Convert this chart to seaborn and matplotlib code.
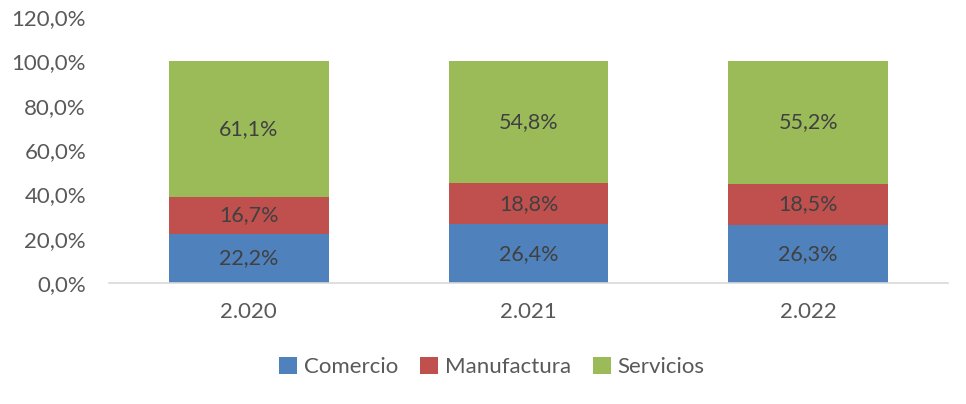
import matplotlib
matplotlib.use("Agg")
import matplotlib.pyplot as plt
import seaborn as sns
import pandas as pd

years = ["2.020", "2.021", "2.022"]
comercio = [22.2, 26.4, 26.3]
manufactura = [16.7, 18.8, 18.5]
servicios = [61.1, 54.8, 55.2]
series_names = ["Comercio", "Manufactura", "Servicios"]
colors = ["#4F81BD", "#C0504D", "#9BBB59"]

sns.set_style("white")
plt.rcParams["font.family"] = ["Lato", "DejaVu Sans"]

fig = plt.figure(figsize=(9.66, 4.04), dpi=100)
ax = fig.add_axes([109 / 966, 1 - 283 / 404, 839 / 966, 266 / 404])

bottom = [0, 0, 0]
for name, vals, col in zip(series_names, [comercio, manufactura, servicios], colors):
    df = pd.DataFrame({"year": years, "value": vals})
    sns.barplot(data=df, x="year", y="value", bottom=bottom, color=col,
                width=0.572, ax=ax, label=name, saturation=1, linewidth=0)
    for i, v in enumerate(vals):
        ax.text(i, bottom[i] + v / 2, f"{v:.1f}%".replace(".", ","),
                ha="center", va="center", fontsize=15.5, color="#404040")
    bottom = [b + v for b, v in zip(bottom, vals)]

ax.set_ylim(0, 120)
ax.set_xlim(-0.5, 2.5)
ax.set_yticks(range(0, 121, 20))
ax.set_yticklabels([f"{t},0%" for t in range(0, 121, 20)])
ax.set_xlabel("")
ax.set_ylabel("")
ax.tick_params(axis="both", labelsize=16, colors="#595959", length=0)
ax.tick_params(axis="y", pad=16.5)
ax.tick_params(axis="x", pad=14)
for s in ["top", "right", "left"]:
    ax.spines[s].set_visible(False)
ax.spines["bottom"].set_color("#d9d9d9")
ax.spines["bottom"].set_linewidth(1.2)

ax.legend(loc="center", bbox_to_anchor=(492 / 966, 1 - 367 / 404),
          bbox_transform=fig.transFigure, ncol=3, frameon=False,
          fontsize=16, labelcolor="#595959", handlelength=0.8, handleheight=0.8,
          handletextpad=0.3, columnspacing=1.0)

fig.savefig("out.png", dpi=100)
